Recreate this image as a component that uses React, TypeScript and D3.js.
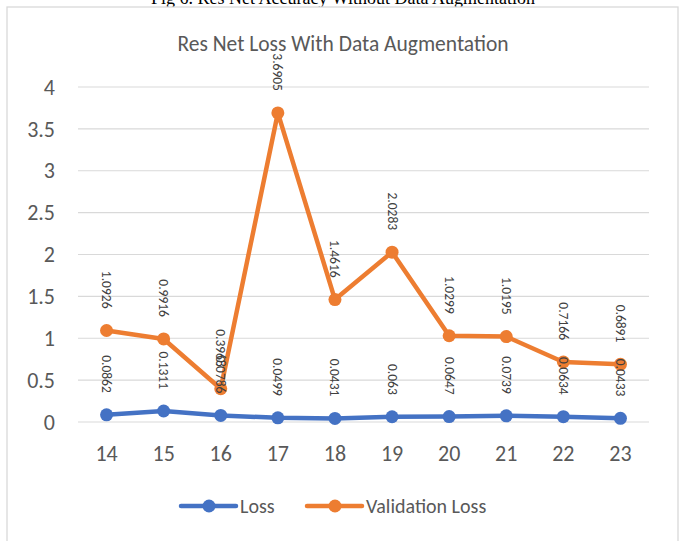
import React from 'react';
import * as d3 from 'd3';

const epochs = ['14', '15', '16', '17', '18', '19', '20', '21', '22', '23'];
const lossValues = [0.0862, 0.1311, 0.0786, 0.0499, 0.0431, 0.063, 0.0647, 0.0739, 0.0634, 0.0433];
const valLossValues = [1.0926, 0.9916, 0.3968, 3.6905, 1.4616, 2.0283, 1.0299, 1.0195, 0.7166, 0.6891];
const yTicks = [0, 0.5, 1, 1.5, 2, 2.5, 3, 3.5, 4];
const seriesNames = ['Loss', 'Validation Loss'];
const seriesColors = ['#4472C4', '#ED7D31'];

const W = 683;
const H = 541;
const font = 'Carlito, "Open Sans", "Noto Sans", sans-serif';

const App = () => {
  const x = d3.scaleBand().domain(epochs).range([78, 649]);
  const y = d3.scaleLinear().domain([0, 4]).range([422, 87]);
  const cx = (i: number) => (x(epochs[i]) as number) + x.bandwidth() / 2;

  const line = d3.line<number>()
    .x((d, i) => cx(i))
    .y(d => y(d));

  const series = [lossValues, valLossValues];

  return (
    <svg width={W} height={H} style={{ position: 'absolute', left: 0, top: 0 }}>
      <rect width={W} height={H} fill="#fff" />
      <text x={343} y={4} textAnchor="middle" fontFamily='"Liberation Serif", "Times New Roman", serif'
        fontSize={18} fill="#000">Fig 6. Res Net Accuracy Without Data Augmentation</text>
      <rect x={7} y={7} width={671} height={560} fill="#fff" stroke="#d9d9d9" strokeWidth={1.3} />

      <text x={343} y={51} textAnchor="middle" fontFamily={font} fontSize={21.5} fill="#595959">
        Res Net Loss With Data Augmentation
      </text>

      {yTicks.map(t => (
        <g key={t}>
          <line x1={78} x2={649} y1={y(t)} y2={y(t)} stroke="#d9d9d9" strokeWidth={1.2} />
          <text x={55} y={y(t)} dy="0.35em" textAnchor="end" fontFamily={font} fontSize={22} fill="#595959">
            {t}
          </text>
        </g>
      ))}

      {epochs.map((e, i) => (
        <text key={e} x={cx(i)} y={461} textAnchor="middle" fontFamily={font} fontSize={22} fill="#595959">
          {e}
        </text>
      ))}

      {series.map((vals, s) => (
        <g key={s}>
          <path d={line(vals) || ''} fill="none" stroke={seriesColors[s]} strokeWidth={4.5}
            strokeLinejoin="round" strokeLinecap="round" />
          {vals.map((v, i) => (
            <circle key={i} cx={cx(i)} cy={y(v)} r={6.5} fill={seriesColors[s]} />
          ))}
        </g>
      ))}

      {series.map((vals, s) => (
        <g key={'l' + s}>
          {vals.map((v, i) => (
            <text key={i} transform={`translate(${cx(i)},${y(v) - 22}) rotate(90)`}
              textAnchor="end" dominantBaseline="central" fontFamily={font} fontSize={13.5} fill="#404040">
              {String(v)}
            </text>
          ))}
        </g>
      ))}

      {seriesNames.map((n, s) => {
        const lx = s === 0 ? 181 : 307;
        return (
          <g key={n}>
            <line x1={lx} x2={lx + 55} y1={506} y2={506} stroke={seriesColors[s]} strokeWidth={4.5} strokeLinecap="round" />
            <circle cx={lx + 28} cy={506} r={6.5} fill={seriesColors[s]} />
            <text x={lx + 59} y={506} dy="0.35em" fontFamily={font} fontSize={20} fill="#595959">{n}</text>
          </g>
        );
      })}
    </svg>
  );
};

export default App;
